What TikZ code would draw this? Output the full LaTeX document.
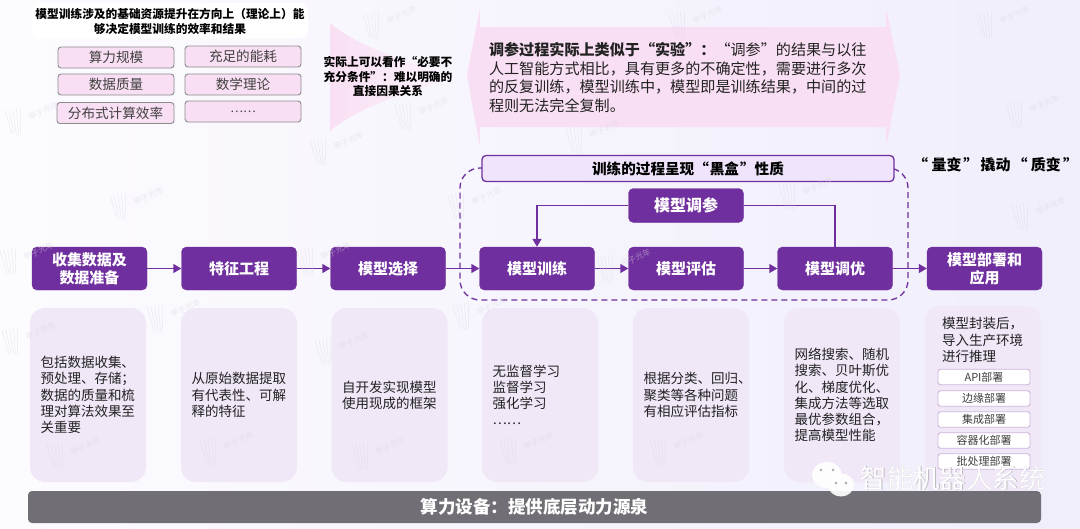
\documentclass[tikz,border=0pt]{standalone}
\usepackage{fontspec}
\setmainfont{Noto Sans CJK SC}
\usetikzlibrary{arrows.meta}
\definecolor{pur}{HTML}{702F9E}
\definecolor{pinkf}{HTML}{F9DFF3}
\definecolor{panelf}{HTML}{F0E7F7}
\definecolor{lav}{HTML}{EFE4FB}
\definecolor{barg}{HTML}{716E75}
\definecolor{wmc}{HTML}{DAD6E0}
\definecolor{txt}{HTML}{222222}
\definecolor{bgl}{HTML}{FCFBFE}
\definecolor{bgr}{HTML}{F0EEFB}
\definecolor{fadeend}{HTML}{FAF7FD}
\newcommand{\fsz}[2]{\fontsize{#1}{#2}\selectfont}
\newcommand{\wmk}[2]{\begin{scope}[shift={(#1,#2)},opacity=.5]
 \foreach \i in {0,...,4}{\draw[wmc,line width=.45pt] (\i*3.8,-\i*0.6) -- (\i*2.2+7,24+\i*0.4);}
 \node[wmc,rotate=25,anchor=west,inner sep=0pt] (wm#1x#2) at (24,8) {\fsz{8}{9}甲子光年};
\end{scope}}
\tikzset{
 x=1pt,y=-1pt,
 stage/.style={draw=pur,fill=pur,rounded corners=5pt,text=white,font=\bfseries\fsz{15}{18},align=center,inner sep=0pt,minimum width=115pt,minimum height=43pt},
 panel/.style={fill=panelf,rounded corners=15pt,text=txt,font=\fsz{13.5}{16.2},align=left,inner sep=0pt,minimum width=116pt,minimum height=174pt,text width=95pt},
 pinkbox/.style={draw=black!45,line width=.9pt,fill=pinkf,rounded corners=3pt,text=black!75,font=\fsz{13.6}{15},inner sep=0pt,minimum width=116pt,minimum height=21pt},
 dep/.style={draw=pur!35,line width=.9pt,fill=white,rounded corners=2.5pt,text=black!75,font=\fsz{11}{12},inner sep=0pt,minimum width=92pt,minimum height=15.5pt},
 flow/.style={draw=pur,line width=1.4pt,-{Triangle[length=8pt,width=9pt]}},
 plain/.style={draw=pur,line width=1.4pt},
 boldnote/.style={text=black,font=\bfseries\fsz{11.7}{14.6},align=center,inner sep=0pt},
}
\begin{document}
\begin{tikzpicture}
\useasboundingbox (0,0) rectangle (1080,528);
\shade[left color=bgl,right color=bgr] (0,0) rectangle (1080,528);

% top-left block
\node[fill=white,rounded corners=7pt,minimum width=276pt,minimum height=35pt,inner sep=0pt] (tbox) at (170,20.5) {};
\node[boldnote,font=\bfseries\fsz{11.7}{15}] (ttext) at (170,21.5) {模型训练涉及的基础资源提升在方向上（理论上）能\\够决定模型训练的效率和结果};
\node[pinkbox] (p1) at (116,57.5) {算力规模};
\node[pinkbox] (p2) at (243,56.5) {充足的能耗};
\node[pinkbox] (p3) at (116,84.5) {数据质量};
\node[pinkbox] (p4) at (243,84.5) {数学理论};
\node[pinkbox,minimum width=117pt] (p5) at (115.5,113) {分布式计算效率};
\node[pinkbox] (p6) at (243,111.5) {\fsz{12}{14}……};

% concave arrow
\shade[left color=pinkf,right color=fadeend] (330,23) .. controls (355,45) and (410,65) .. (465,77) .. controls (410,89) and (355,109) .. (330,131) -- cycle;
\node[boldnote] (note) at (388,76.5) {实际上可以看作“必要不\\充分条件”：难以明确的\\直接因果关系};

% double arrow
\fill[pinkf] (480,8) -- (467,75) -- (480,147) -- (480,127) -- (886,127) -- (886,147) -- (900,75) -- (886,8) -- (886,27) -- (480,27) -- cycle;
\node[text=txt,font=\fsz{15.1}{18.6},align=left,inner sep=0pt,text width=380pt] (exp) at (679,77.5) {\textbf{调参过程实际上类似于“实验”：}“调参”的结果与以往\\人工智能方式相比，具有更多的不确定性，需要进行多次\\的反复训练，模型训练中，模型即是训练结果，中间的过\\程则无法完全复制。};

\node[text=black,font=\bfseries\fsz{15}{16},inner sep=0pt] (lz) at (995.5,164.5) {“\hspace{3.5pt}量变\hspace{2pt}”\hspace{2pt}撬动\hspace{2pt}“\hspace{3.5pt}质变\hspace{2pt}”};

% dashed frame
\draw[pur,line width=1.3pt,dash pattern=on 6pt off 4pt,rounded corners=20pt] (684,168) -- (460,168) -- (460,300) -- (908,300) -- (908,168) -- cycle;
\node[draw=pur,line width=1.3pt,fill=lav,rounded corners=4pt,minimum width=412pt,minimum height=26pt,inner sep=0pt,font=\bfseries\fsz{14.6}{16},text=black] (blk) at (688,168.5) {训练的过程呈现“\hspace{1pt}黑盒\hspace{1pt}”性质};

% stages
\node[stage] (s1) at (89.5,268.5) {收集数据及\\数据准备};
\node[stage] (s2) at (239,268.5) {特征工程};
\node[stage] (s3) at (388,268.5) {模型选择};
\node[stage] (s4) at (537,268.5) {模型训练};
\node[stage] (s5) at (686,268.5) {模型评估};
\node[stage] (s6) at (835,268.5) {模型调优};
\node[stage] (s7) at (984.5,268.5) {模型部署和\\应用};
\node[stage,minimum height=34pt,font=\bfseries\fsz{16}{18}] (tune) at (686,205.5) {模型调参};

\draw[flow] (s1) -- (s2);
\draw[flow] (s2) -- (s3);
\draw[flow] (s3) -- (s4);
\draw[flow] (s4) -- (s5);
\draw[flow] (s5) -- (s6);
\draw[flow] (s6) -- (s7);
\draw[plain] (s6.north) |- (tune.east);
\draw[flow] (tune.west) -| (s4.north);

% panels
\node[panel] (d1) at (88,395) {包括数据收集、\\预处理、存储；\\数据的质量和梳\\理对算法效果至\\关重要};
\node[panel] (d2) at (239,395) {从原始数据提取\\有代表性、可解\\释的特征};
\node[panel] (d3) at (389.5,395) {自开发实现模型\\使用现成的框架};
\node[panel] (d4) at (540,395) {无监督学习\\监督学习\\强化学习\\……};
\node[panel] (d5) at (691,395) {根据分类、回归、\\聚类等各种问题\\有相应评估指标};
\node[panel] (d6) at (842,395) {网络搜索、随机\\搜索、贝叶斯优\\化、梯度优化、\\集成方法等选取\\最优参数组合，\\提高模型性能};
\node[panel,minimum height=189pt] (d7) at (983,400.5) {};
\node[text=txt,font=\fsz{13.5}{16.5},align=left,inner sep=0pt,anchor=north west] (d7t) at (942,317) {模型封装后，\\导入生产环境\\进行推理};
\node[dep] (q1) at (984,377) {API部署};
\node[dep] (q2) at (984,398.5) {边缘部署};
\node[dep] (q3) at (984,419.5) {集成部署};
\node[dep] (q4) at (984,440.5) {容器化部署};
\node[dep] (q5) at (984,461.5) {批处理部署};

% bar
\node[fill=barg,rounded corners=4pt,minimum width=1013pt,minimum height=32pt,inner sep=0pt,text=white,font=\bfseries\fsz{17.5}{20}] (bar) at (534.5,507) {算力设备：提供底层动力源泉};

% faint marks
\foreach \a/\b in {0/250,147/307,2/330,47/445,315/340,453/305,352/445,297/250,363/14,395/105,5/110,310/140,669/14,976/14,1006/103,1012/205,448/195,597/257,779/185,566/128,110/195,500/440,650/440,200/440}{\wmk{\a}{\b}}

% logo and caption
\fill[white,opacity=.92] (827,475) ellipse (15pt and 13pt);
\fill[white,opacity=.92] (841,485) ellipse (13pt and 11.5pt);
\fill[black!35] (821,470) circle (1.3pt) (833,470) circle (1.3pt) (836,483) circle (1.3pt) (846,483) circle (1.3pt);
\node[text=black!35,opacity=.7,font=\fsz{26.4}{28},inner sep=0pt] (logoS) at (953.6,478.6) {智能机器人系统};
\node[text=white,font=\fsz{26.4}{28},inner sep=0pt] (logo) at (953,478) {智能机器人系统};
\end{tikzpicture}
\end{document}
